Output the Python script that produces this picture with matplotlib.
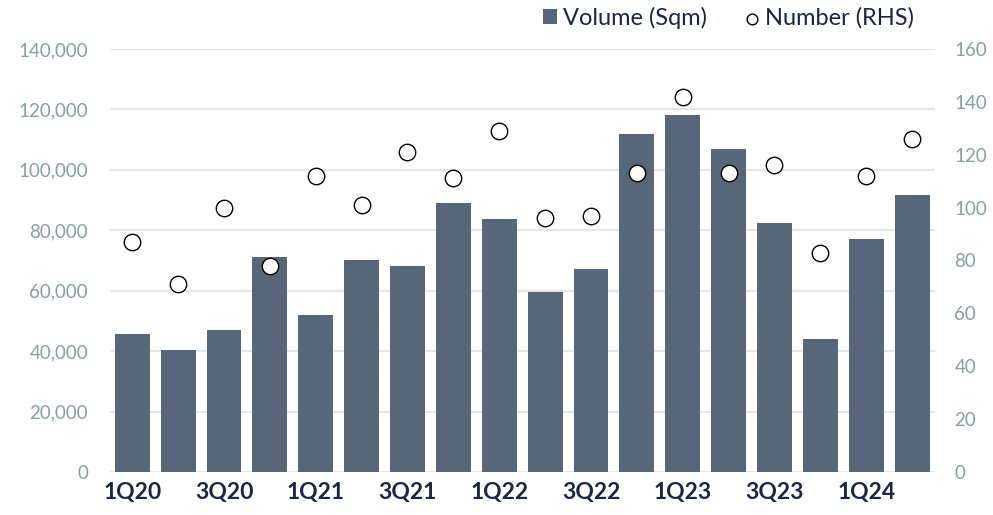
import matplotlib.pyplot as plt
import numpy as np

plt.rcParams['font.family'] = ['Lato', 'DejaVu Sans']

quarters = ['1Q20', '2Q20', '3Q20', '4Q20', '1Q21', '2Q21', '3Q21', '4Q21',
            '1Q22', '2Q22', '3Q22', '4Q22', '1Q23', '2Q23', '3Q23', '4Q23',
            '1Q24', '2Q24']
volume = [45700, 40300, 46900, 71100, 52000, 70000, 68200, 89100,
          83700, 59700, 67100, 112000, 118200, 107000, 82300, 44100,
          77000, 91500]
number = [87, 71, 100, 78, 112, 101, 121, 111, 129, 96, 97, 113,
          142, 113, 116, 83, 112, 126]
left_ticks = [0, 20000, 40000, 60000, 80000, 100000, 120000, 140000]
right_ticks = [0, 20, 40, 60, 80, 100, 120, 140, 160]

bar_col = '#576679'
tick_col = '#8a9ea2'
navy = '#1c2640'
grid_col = '#e3e7e9'

fig = plt.figure(figsize=(9.93, 5.15), dpi=100)
ax = fig.add_axes([0.111, 0.0835, 0.8306, 0.8215])
x = np.arange(len(quarters))

# barre: volume (asse sinistro)
bars = ax.bar(x, volume, width=0.76, color=bar_col, zorder=2, label='Volume (Sqm)')
ax.set_ylim(0, 140000)
ax.set_xlim(-0.48, 17.5)
ax.set_yticks(left_ticks)
ax.set_yticklabels([f'{t:,}' for t in left_ticks])
ax.grid(axis='y', color=grid_col, linewidth=1.5, zorder=0)
ax.set_axisbelow(True)
for s in ax.spines.values():
    s.set_visible(False)
ax.tick_params(axis='y', length=0, pad=16, labelsize=13.5, labelcolor=tick_col)
ax.set_xticks(x[::2])
ax.set_xticklabels(quarters[::2], fontsize=16.5, fontweight='bold', color=navy)
ax.tick_params(axis='x', length=0, pad=7)

# punti: numero (asse destro)
ax2 = ax.twinx()
pts = ax2.scatter(x, number, s=140, facecolor='white', edgecolor='black',
                  linewidth=1, zorder=3, label='Number (RHS)')
ax2.set_ylim(0, 160)
ax2.set_yticks(right_ticks)
for s in ax2.spines.values():
    s.set_visible(False)
ax2.tick_params(axis='y', length=0, pad=14, labelsize=13.5, labelcolor=tick_col)

leg = fig.legend([bars, pts], ['Volume (Sqm)', 'Number (RHS)'],
                 loc='center right', bbox_to_anchor=(0.92, 0.965), ncol=2,
                 frameon=False, fontsize=17, handlelength=0.6, handleheight=0.6,
                 handletextpad=0.25, columnspacing=1.6, markerscale=0.65,
                 borderpad=0, borderaxespad=0)
for t in leg.get_texts():
    t.set_color(navy)

fig.savefig('out.png', dpi=100)
